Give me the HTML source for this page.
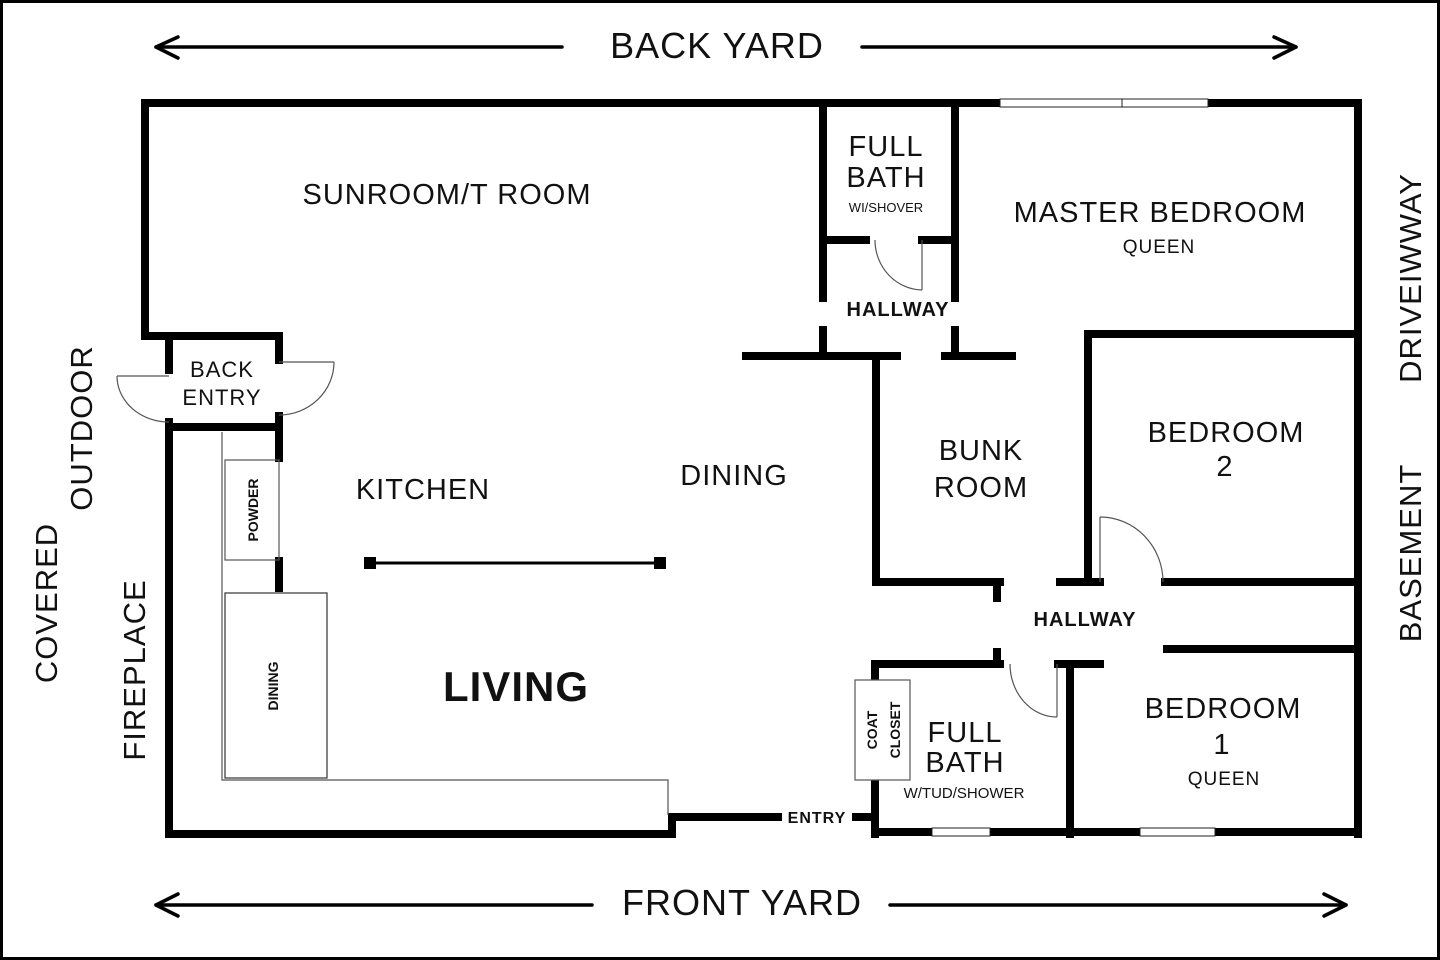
<!DOCTYPE html>
<html><head><meta charset="utf-8"><style>
html,body{margin:0;padding:0;background:#fff;}
svg{display:block;}
text{font-family:"Liberation Sans","DejaVu Sans",sans-serif;fill:#111;}
.t{font-size:29px;letter-spacing:1px;}
.b{font-weight:bold;}
</style></head><body>
<svg width="1440" height="960" viewBox="0 0 1440 960" xmlns="http://www.w3.org/2000/svg">
<rect x="1.5" y="1.5" width="1437" height="957" fill="#fff" stroke="#000" stroke-width="3"/>
<g stroke="#000" stroke-width="3.5" fill="none" stroke-linecap="round" stroke-linejoin="round">
<line x1="156" y1="47" x2="562" y2="47"/><polyline points="178,37 156,47 178,58"/>
<line x1="862" y1="47" x2="1296" y2="47"/><polyline points="1274,37 1296,47 1274,58"/>
<line x1="156" y1="905" x2="592" y2="905"/><polyline points="178,894 156,905 178,916"/>
<line x1="890" y1="905" x2="1346" y2="905"/><polyline points="1324,894 1346,905 1324,916"/>
</g>
<text x="717" y="58" font-size="36" text-anchor="middle" letter-spacing="1">BACK YARD</text>
<text x="742" y="915" font-size="36" text-anchor="middle" letter-spacing="1">FRONT YARD</text>
<text transform="translate(57,603) rotate(-90)" font-size="31" text-anchor="middle" letter-spacing="1">COVERED</text>
<text transform="translate(92,428) rotate(-90)" font-size="31" text-anchor="middle" letter-spacing="1">OUTDOOR</text>
<text transform="translate(145,670) rotate(-90)" font-size="31" text-anchor="middle" letter-spacing="1">FIREPLACE</text>
<text transform="translate(1421,278) rotate(-90)" font-size="31" text-anchor="middle" letter-spacing="1">DRIVEIWWAY</text>
<text transform="translate(1421,553) rotate(-90)" font-size="31" text-anchor="middle" letter-spacing="1">BASEMENT</text>

<g stroke="#000" stroke-width="8" fill="none" stroke-linecap="square">
<line x1="145" y1="103" x2="1000" y2="103"/>
<line x1="1208" y1="103" x2="1358" y2="103"/>
<line x1="1358" y1="103" x2="1358" y2="834"/>
<line x1="145" y1="103" x2="145" y2="336"/>
<line x1="145" y1="336" x2="279" y2="336"/>
<line x1="169" y1="336" x2="169" y2="370"/>
<line x1="169" y1="422" x2="169" y2="834"/>
<line x1="279" y1="336" x2="279" y2="360"/>
<line x1="279" y1="416" x2="279" y2="458"/>
<line x1="279" y1="561" x2="279" y2="588"/>
<line x1="169" y1="427" x2="279" y2="427"/>
<line x1="169" y1="834" x2="672" y2="834"/>
<line x1="672" y1="817" x2="672" y2="834"/>
<line x1="672" y1="817" x2="778" y2="817"/>
<line x1="856" y1="817" x2="875" y2="817"/>
<line x1="823" y1="103" x2="823" y2="298"/>
<line x1="955" y1="103" x2="955" y2="298"/>
<line x1="823" y1="240" x2="866" y2="240"/>
<line x1="922" y1="240" x2="955" y2="240"/>
<line x1="823" y1="330" x2="823" y2="356"/>
<line x1="955" y1="330" x2="955" y2="356"/>
<line x1="746" y1="356" x2="897" y2="356"/>
<line x1="945" y1="356" x2="1012" y2="356"/>
<line x1="876" y1="356" x2="876" y2="582"/>
<line x1="876" y1="582" x2="1000" y2="582"/>
<line x1="997" y1="582" x2="997" y2="598"/>
<line x1="1060" y1="582" x2="1100" y2="582"/>
<line x1="1088" y1="334" x2="1088" y2="582"/>
<line x1="1088" y1="334" x2="1358" y2="334"/>
<line x1="1165" y1="582" x2="1358" y2="582"/>
<line x1="1167" y1="649" x2="1358" y2="649"/>
<line x1="875" y1="664" x2="875" y2="834"/>
<line x1="875" y1="664" x2="1000" y2="664"/>
<line x1="997" y1="652" x2="997" y2="664"/>
<line x1="1058" y1="664" x2="1100" y2="664"/>
<line x1="1070" y1="664" x2="1070" y2="834"/>
<line x1="875" y1="832" x2="932" y2="832"/>
<line x1="990" y1="832" x2="1140" y2="832"/>
<line x1="1215" y1="832" x2="1358" y2="832"/>
</g>
<g stroke="#222" stroke-width="1" fill="#fff">
<rect x="1000" y="99" width="208" height="8"/><line x1="1122" y1="99" x2="1122" y2="107"/>
<rect x="932" y="828" width="58" height="8"/>
<rect x="1140" y="828" width="75" height="8"/>
</g>
<g stroke="#555" stroke-width="1.2" fill="none">
<line x1="117" y1="376" x2="169" y2="376"/>
<path d="M117,376 A52,46 0 0 0 169,422"/>
<line x1="279" y1="362" x2="334" y2="362"/>
<path d="M334,362 A55,53 0 0 1 279,415"/>
<rect x="225" y="460" width="54" height="100"/>
<polyline points="222,432 222,780 668,780 668,815"/>
<rect x="225" y="593" width="102" height="185" stroke="#333"/>
<line x1="922" y1="240" x2="922" y2="290"/>
<path d="M875,240 A48,50 0 0 0 922,290"/>
<line x1="1100" y1="517" x2="1100" y2="582"/>
<path d="M1100,517 A63,65 0 0 1 1163,582"/>
<line x1="1057" y1="664" x2="1057" y2="717"/>
<path d="M1010,664 A47,53 0 0 0 1057,717"/>
<rect x="855" y="680" width="55" height="100" fill="#fff"/>
</g>
<line x1="370" y1="563" x2="660" y2="563" stroke="#000" stroke-width="3"/>
<rect x="364" y="557" width="12" height="12" fill="#000"/>
<rect x="654" y="557" width="12" height="12" fill="#000"/>

<text class="t" x="447" y="204" text-anchor="middle">SUNROOM/T ROOM</text>
<text class="t" x="886" y="156" text-anchor="middle" font-size="27">FULL</text>
<text class="t" x="886" y="187" text-anchor="middle" font-size="27">BATH</text>
<text x="886" y="212" text-anchor="middle" font-size="13">WI/SHOVER</text>
<text class="t" x="1160" y="222" text-anchor="middle">MASTER BEDROOM</text>
<text x="1159" y="253" text-anchor="middle" font-size="19" letter-spacing="1">QUEEN</text>
<text class="b" x="898" y="316" text-anchor="middle" font-size="20" letter-spacing="1">HALLWAY</text>
<text x="222" y="377" text-anchor="middle" font-size="22" letter-spacing="1">BACK</text>
<text x="222" y="405" text-anchor="middle" font-size="22" letter-spacing="1">ENTRY</text>
<text class="t" x="423" y="499" text-anchor="middle">KITCHEN</text>
<text class="t" x="734" y="485" text-anchor="middle">DINING</text>
<text class="t" x="981" y="460" text-anchor="middle">BUNK</text>
<text class="t" x="981" y="497" text-anchor="middle">ROOM</text>
<text class="t" x="1226" y="442" text-anchor="middle">BEDROOM</text>
<text class="t" x="1225" y="476" text-anchor="middle">2</text>
<text class="b" x="1085" y="626" text-anchor="middle" font-size="20" letter-spacing="1">HALLWAY</text>
<text class="b" x="516" y="701" text-anchor="middle" font-size="42" letter-spacing="1">LIVING</text>
<text transform="translate(258,510) rotate(-90)" class="b" font-size="14" text-anchor="middle">POWDER</text>
<text transform="translate(278,686) rotate(-90)" class="b" font-size="14" text-anchor="middle">DINING</text>
<text transform="translate(877,730) rotate(-90)" class="b" font-size="14" text-anchor="middle">COAT</text>
<text transform="translate(900,730) rotate(-90)" class="b" font-size="14" text-anchor="middle">CLOSET</text>
<text class="t" x="965" y="742" text-anchor="middle">FULL</text>
<text class="t" x="965" y="772" text-anchor="middle">BATH</text>
<text x="964" y="798" text-anchor="middle" font-size="15">W/TUD/SHOWER</text>
<text class="t" x="1223" y="718" text-anchor="middle">BEDROOM</text>
<text class="t" x="1222" y="754" text-anchor="middle">1</text>
<text x="1224" y="785" text-anchor="middle" font-size="19" letter-spacing="1">QUEEN</text>
<text class="b" x="817" y="823" text-anchor="middle" font-size="16" letter-spacing="1">ENTRY</text>
</svg>
</body></html>
